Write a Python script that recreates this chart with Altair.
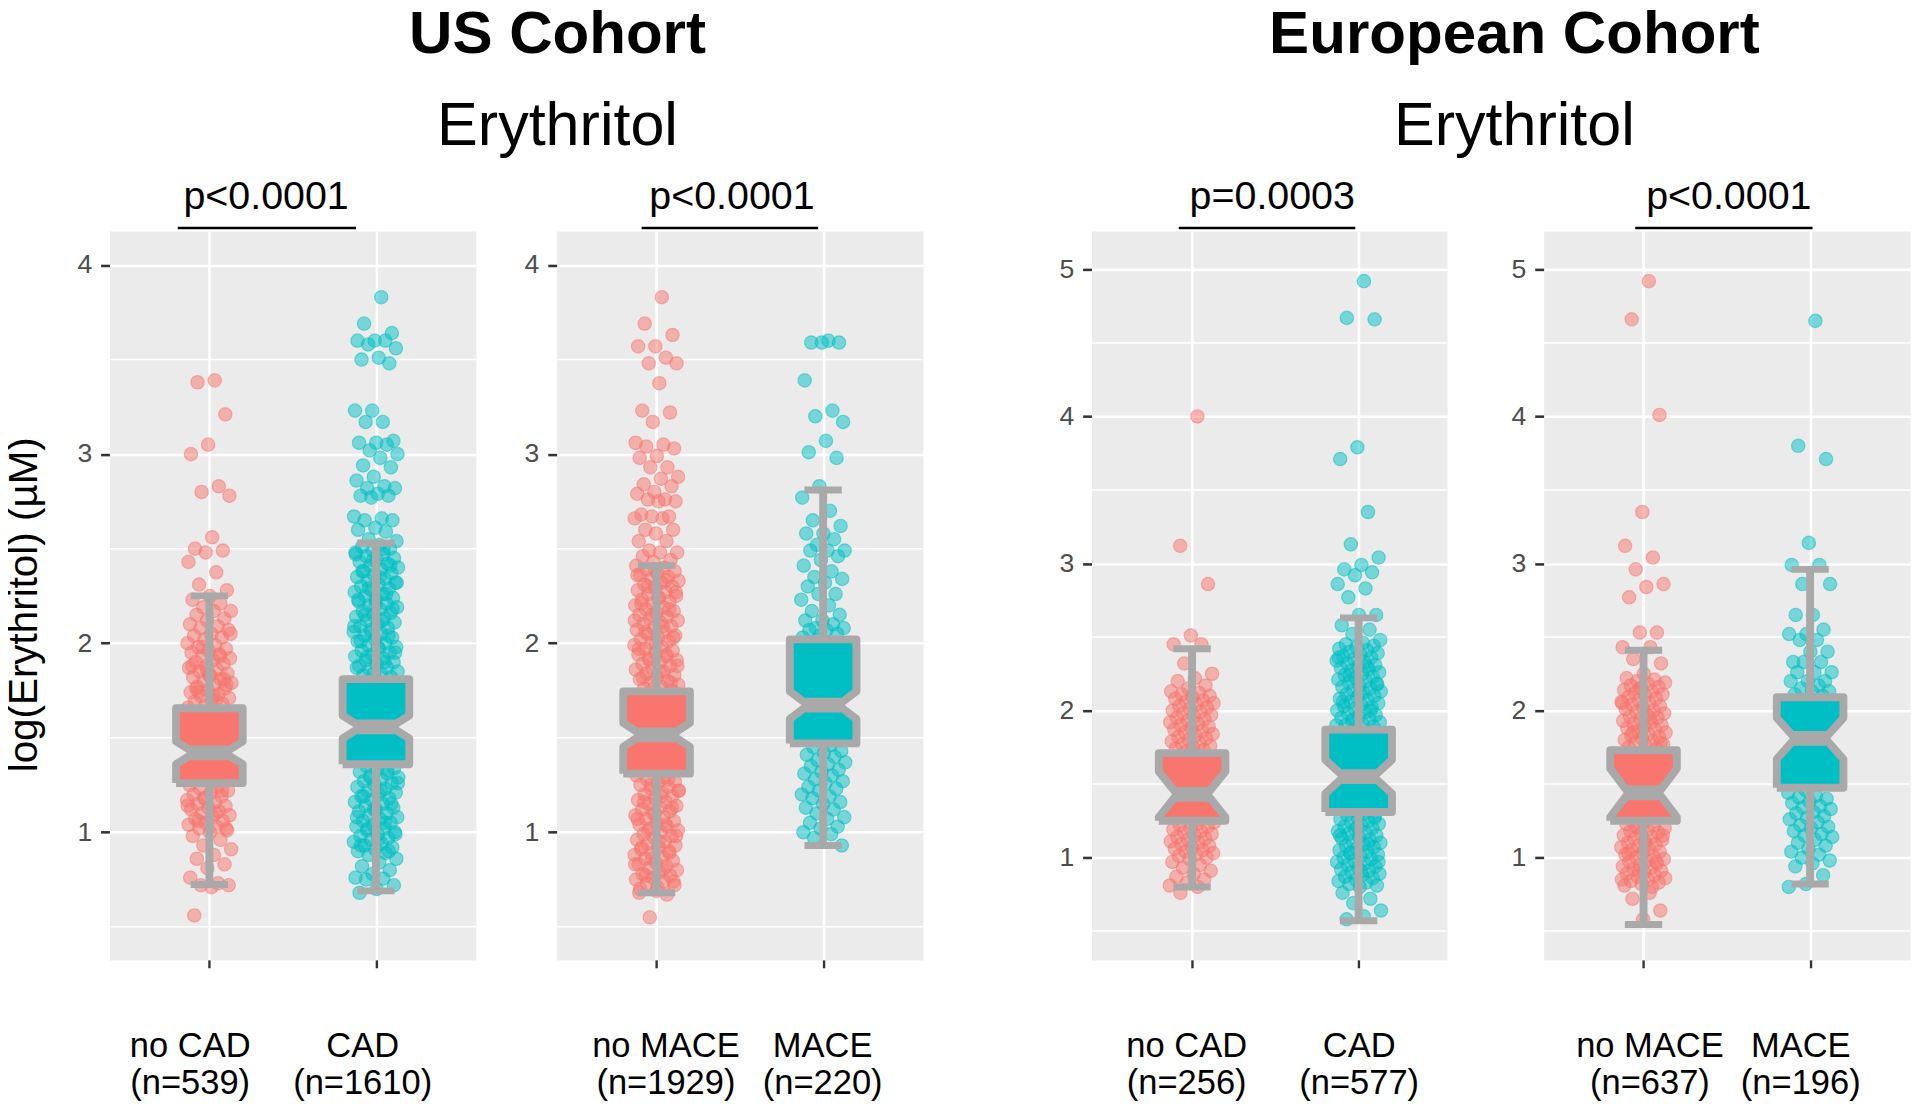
import json
import altair as alt
import pandas as pd

FONT = "Liberation Sans"
RED, TEAL, GRAY = "#F8766D", "#00BFC4", "#A9A9A9"

COHORTS = ["US Cohort", "European Cohort"]
SUBTITLE = "Erythritol"
Y_TITLE = "log(Erythritol) (µM)"
P_TEXT = ["p<0.0001", "p<0.0001", "p=0.0003", "p<0.0001"]
CAT_A = ["no CAD", "no MACE", "no CAD", "no MACE"]
CAT_B = ["CAD", "MACE", "CAD", "MACE"]
N_A = ["(n=539)", "(n=1929)", "(n=256)", "(n=637)"]
N_B = ["(n=1610)", "(n=220)", "(n=577)", "(n=196)"]

# box statistics: lower whisker, q1, median, q3, upper whisker, notch half-height
BOX_A = [[0.724, 1.26, 1.42, 1.656, 2.25, 0.06],
         [0.68, 1.31, 1.515, 1.745, 2.41, 0.063],
         [0.80, 1.25, 1.43, 1.71, 2.42, 0.155],
         [0.545, 1.25, 1.44, 1.73, 2.41, 0.165]]
BOX_B = [[0.69, 1.36, 1.557, 1.81, 2.53, 0.06],
         [0.93, 1.47, 1.672, 2.02, 2.81, 0.073],
         [0.57, 1.31, 1.55, 1.87, 2.63, 0.115],
         [0.82, 1.475, 1.81, 2.09, 2.96, 0.14]]
BRACKET = [[0.81, 1.88], [0.91, 1.97], [0.92, 1.98], [0.95, 2.015]]

# points (log erythritol) per group
US_NOCAD = [3.39, 3.38, 3.21, 3.05, 3.00, 2.83, 2.80, 2.78, 2.56, 2.50, 2.49, 2.48, 2.43, 2.375, 2.31, 2.28,
            2.25, 2.23, 2.21, 2.19, 2.17, 2.17, 2.15, 2.13, 2.12, 2.10, 2.09, 2.08, 2.07, 2.05, 2.04, 2.03,
            2.02, 2.00, 1.99, 1.98, 1.97, 1.96, 1.95, 1.94, 1.93, 1.92, 1.91, 1.90, 1.89, 1.88, 1.87, 1.86,
            1.85, 1.84, 1.83, 1.82, 1.81, 1.80, 1.79, 1.78, 1.77, 1.76, 1.75, 1.74, 1.73, 1.72, 1.71, 1.70,
            1.69, 1.68, 1.67, 1.66, 1.70, 1.74, 1.78, 1.83, 1.88, 1.93, 1.98, 2.05, 1.72, 1.76, 1.81, 1.86,
            1.25, 1.24, 1.23, 1.22, 1.21, 1.20, 1.19, 1.18, 1.17, 1.16, 1.15, 1.14, 1.13, 1.12, 1.11, 1.10,
            1.09, 1.08, 1.07, 1.06, 1.05, 1.04, 1.03, 1.02, 1.01, 1.00, 0.98, 0.96, 0.93, 0.91, 0.88, 0.86,
            0.83, 0.81, 0.76, 0.73, 0.72, 0.72, 0.71, 0.56, 1.22, 1.18, 1.14, 1.10, 1.06, 1.02]
US_CAD = [3.83, 3.69, 3.64, 3.60, 3.60, 3.60, 3.58, 3.56, 3.51, 3.50, 3.48, 3.23, 3.23, 3.17, 3.17, 3.07,
          3.06, 3.06, 3.05, 3.02, 3.00, 2.98, 2.94, 2.93, 2.88, 2.86, 2.83, 2.82, 2.82, 2.79, 2.78, 2.78,
          2.77, 2.67, 2.66, 2.65, 2.65, 2.61, 2.60, 2.59, 2.55, 2.54,
          2.52, 2.51, 2.50, 2.49, 2.48, 2.47, 2.46, 2.45, 2.44, 2.43, 2.42, 2.41, 2.40, 2.39, 2.38, 2.37,
          2.36, 2.35, 2.34, 2.33, 2.32, 2.31, 2.30, 2.29, 2.28, 2.27, 2.26, 2.25, 2.24, 2.23, 2.22, 2.21,
          2.20, 2.19, 2.18, 2.17, 2.16, 2.15, 2.14, 2.13, 2.12, 2.11, 2.10, 2.09, 2.08, 2.07, 2.06, 2.05,
          2.04, 2.03, 2.02, 2.01, 2.00, 1.99, 1.98, 1.97, 1.96, 1.95, 1.94, 1.93, 1.92, 1.91, 1.90, 1.89,
          1.88, 1.87, 1.86, 1.85, 1.84, 1.83, 1.82,
          1.84, 1.87, 1.90, 1.93, 1.95, 1.98, 2.01, 2.04, 2.06, 2.09, 2.12, 2.15, 2.18, 2.20, 2.23, 2.26,
          2.29, 2.32, 2.35, 2.38, 2.41, 2.44, 2.47, 2.50,
          1.35, 1.34, 1.33, 1.32, 1.31, 1.30, 1.29, 1.28, 1.27, 1.26, 1.25, 1.24, 1.23, 1.22, 1.21, 1.20,
          1.19, 1.18, 1.17, 1.16, 1.15, 1.14, 1.13, 1.12, 1.11, 1.10, 1.09, 1.08, 1.07, 1.06, 1.05, 1.04,
          1.03, 1.02, 1.01, 1.00, 0.99, 0.98, 0.97, 0.96, 0.95, 0.94, 0.93, 0.92, 0.91, 0.90, 0.89, 0.88,
          0.86, 0.84, 0.82, 0.80, 0.78, 0.76, 0.755, 0.75, 0.72, 0.70, 0.68,
          1.33, 1.29, 1.26, 1.22, 1.19, 1.15, 1.12, 1.08, 1.05, 1.02, 0.99, 0.96, 0.93, 0.90]
US_NOMACE = [3.83, 3.69, 3.63, 3.57, 3.57, 3.51, 3.48, 3.48, 3.375, 3.23, 3.22, 3.17, 3.06, 3.05, 3.04, 3.03,
             2.99, 2.98, 2.93, 2.93, 2.88, 2.87, 2.84, 2.83, 2.80, 2.79, 2.76, 2.76, 2.75, 2.75, 2.68, 2.67,
             2.67, 2.66, 2.66, 2.60, 2.60, 2.58, 2.54, 2.54, 2.49, 2.48, 2.48, 2.46, 2.44, 2.43,
             2.41, 2.40, 2.39, 2.38, 2.37, 2.36, 2.35, 2.34, 2.33, 2.32, 2.31, 2.30, 2.29, 2.28, 2.27, 2.26,
             2.25, 2.24, 2.23, 2.22, 2.21, 2.20, 2.19, 2.18, 2.17, 2.16, 2.15, 2.14, 2.13, 2.12, 2.11, 2.10,
             2.09, 2.08, 2.07, 2.06, 2.05, 2.04, 2.03, 2.02, 2.01, 2.00, 1.99, 1.98, 1.97, 1.96, 1.95, 1.94,
             1.93, 1.92, 1.91, 1.90, 1.89, 1.88, 1.87, 1.86, 1.85, 1.84, 1.83, 1.82, 1.81, 1.80, 1.79, 1.78,
             1.77, 1.76, 1.75,
             2.39, 2.36, 2.33, 2.30, 2.27, 2.24, 2.21, 2.18, 2.15, 2.12, 2.09, 2.06, 2.03, 2.00, 1.97, 1.94,
             1.91, 1.88, 1.85, 1.82, 1.79, 1.76,
             1.30, 1.29, 1.28, 1.27, 1.26, 1.25, 1.24, 1.23, 1.22, 1.21, 1.20, 1.19, 1.18, 1.17, 1.16, 1.15,
             1.14, 1.13, 1.12, 1.11, 1.10, 1.09, 1.08, 1.07, 1.06, 1.05, 1.04, 1.03, 1.02, 1.01, 1.00, 0.99,
             0.98, 0.97, 0.96, 0.95, 0.94, 0.93, 0.92, 0.91, 0.90, 0.89, 0.88, 0.87, 0.86, 0.85, 0.84, 0.83,
             0.82, 0.81, 0.80, 0.79, 0.78, 0.77, 0.76, 0.75, 0.74, 0.73, 0.72, 0.71, 0.70,
             1.28, 1.25, 1.22, 1.19, 1.16, 1.13, 1.10, 1.07, 1.04, 1.01, 0.98, 0.95, 0.92, 0.89, 0.86, 0.83,
             0.80, 0.77, 0.74, 0.69, 0.68, 0.67, 0.55]
US_MACE = [3.60, 3.59, 3.59, 3.59, 3.39, 3.23, 3.20, 3.17, 3.07, 3.01, 2.98, 2.83, 2.77, 2.70, 2.65, 2.62,
           2.58, 2.58, 2.55, 2.52, 2.49, 2.49, 2.49, 2.46, 2.44, 2.41, 2.38, 2.35, 2.34, 2.32, 2.30, 2.26,
           2.26, 2.23, 2.20, 2.17, 2.15, 2.12, 2.12, 2.10, 2.08, 2.08, 2.07, 2.07, 2.05, 2.04, 2.03,
           1.46, 1.45, 1.43, 1.42, 1.41, 1.40, 1.38, 1.37, 1.36, 1.35, 1.33, 1.32, 1.31, 1.30, 1.28, 1.27,
           1.26, 1.24, 1.23, 1.22, 1.20, 1.19, 1.18, 1.16, 1.15, 1.13, 1.12, 1.10, 1.08, 1.07, 1.05, 1.03,
           1.02, 1.00, 0.99, 0.97, 0.93]
EU_NOCAD = [4.00, 3.12, 2.86, 2.51, 2.45, 2.45, 2.32, 2.25, 2.22, 2.20, 2.17, 2.15, 2.13, 2.12, 2.11, 2.10,
            2.09, 2.08, 2.07, 2.06, 2.05, 2.04, 2.03, 2.02, 2.01, 2.00, 1.99, 1.98, 1.97, 1.96, 1.95, 1.94,
            1.93, 1.92, 1.91, 1.90, 1.89, 1.88, 1.87, 1.86, 1.85, 1.84, 1.83, 1.82, 1.81, 1.80, 1.79, 1.78,
            1.77, 1.76, 1.75, 1.74, 1.73, 1.72,
            1.24, 1.23, 1.22, 1.21, 1.20, 1.19, 1.18, 1.17, 1.16, 1.15, 1.14, 1.13, 1.12, 1.11, 1.10, 1.09,
            1.08, 1.07, 1.06, 1.05, 1.04, 1.03, 1.02, 1.01, 1.00, 0.99, 0.97, 0.95, 0.93, 0.91, 0.89, 0.87,
            0.85, 0.83, 0.81, 0.80, 0.76]
EU_CAD = [4.92, 4.67, 4.66, 3.79, 3.71, 3.35, 3.13, 3.04, 2.99, 2.96, 2.94, 2.92, 2.86, 2.83, 2.77, 2.65,
          2.65, 2.58, 2.55, 2.52, 2.48, 2.46,
          2.45, 2.44, 2.43, 2.42, 2.41, 2.40, 2.39, 2.38, 2.37, 2.36, 2.35, 2.34, 2.33, 2.32, 2.31, 2.30,
          2.29, 2.28, 2.27, 2.26, 2.25, 2.24, 2.23, 2.22, 2.21, 2.20, 2.19, 2.18, 2.17, 2.16, 2.15, 2.14,
          2.13, 2.12, 2.11, 2.10, 2.09, 2.08, 2.07, 2.06, 2.05, 2.04, 2.03, 2.02, 2.01, 2.00, 1.99, 1.98,
          1.97, 1.96, 1.95, 1.94, 1.93, 1.92, 1.91, 1.90, 1.89, 1.88,
          2.36, 2.30, 2.24, 2.18, 2.12, 2.06, 2.00, 1.94, 1.90,
          1.30, 1.29, 1.28, 1.27, 1.26, 1.25, 1.24, 1.23, 1.22, 1.21, 1.20, 1.19, 1.18, 1.17, 1.16, 1.15,
          1.14, 1.13, 1.12, 1.11, 1.10, 1.09, 1.08, 1.07, 1.06, 1.05, 1.04, 1.03, 1.02, 1.01, 1.00, 0.99,
          0.98, 0.97, 0.96, 0.95, 0.94, 0.93, 0.92, 0.91, 0.90, 0.89, 0.88, 0.87, 0.86, 0.85, 0.84, 0.83,
          0.82, 0.81, 0.80, 0.76, 0.72, 0.69, 0.64, 0.60, 0.58,
          1.27, 1.21, 1.15, 1.09, 1.03, 0.97, 0.91]
EU_NOMACE = [4.92, 4.66, 4.01, 3.35, 3.12, 3.04, 2.96, 2.86, 2.84, 2.77, 2.53, 2.53, 2.43, 2.43, 2.35, 2.32,
             2.25, 2.22, 2.21, 2.20, 2.19, 2.18, 2.17, 2.16, 2.15, 2.14, 2.13, 2.12, 2.11, 2.10, 2.09, 2.08,
             2.07, 2.06, 2.05, 2.04, 2.03, 2.02, 2.01, 2.00, 1.99, 1.98, 1.97, 1.96, 1.95, 1.94, 1.93, 1.92,
             1.91, 1.90, 1.89, 1.88, 1.87, 1.86, 1.85, 1.84, 1.83, 1.82, 1.81, 1.80, 1.79, 1.78, 1.77, 1.76,
             1.75, 1.74, 2.15, 2.05, 1.95, 1.85, 1.78,
             1.24, 1.23, 1.22, 1.21, 1.20, 1.19, 1.18, 1.17, 1.16, 1.15, 1.14, 1.13, 1.12, 1.11, 1.10, 1.09,
             1.08, 1.07, 1.06, 1.05, 1.04, 1.03, 1.02, 1.01, 1.00, 0.99, 0.98, 0.97, 0.96, 0.95, 0.94, 0.93,
             0.92, 0.91, 0.90, 0.89, 0.88, 0.87, 0.86, 0.85, 0.84, 0.83, 0.82, 0.81, 0.80,
             1.21, 1.15, 1.09, 1.03, 0.97, 0.91, 0.85, 0.76, 0.72, 0.64, 0.58]
EU_MACE = [4.65, 3.80, 3.71, 3.14, 2.99, 2.99, 2.86, 2.86, 2.65, 2.65, 2.55, 2.52, 2.52, 2.48, 2.48, 2.40,
           2.40, 2.33, 2.33, 2.33, 2.26, 2.26, 2.26, 2.20, 2.20, 2.20, 2.17, 2.15, 2.13, 2.13, 2.11, 2.10,
           1.46, 1.44, 1.42, 1.41, 1.40, 1.38, 1.37, 1.35, 1.34, 1.33, 1.31, 1.30, 1.28, 1.27, 1.26, 1.24,
           1.22, 1.21, 1.20, 1.18, 1.16, 1.15, 1.14, 1.12, 1.10, 1.08, 1.06, 1.04, 1.02, 1.00, 0.98, 0.96,
           0.94, 0.88, 0.82, 0.80]

POINTS_A = [US_NOCAD, US_NOMACE, EU_NOCAD, EU_NOMACE]
POINTS_B = [US_CAD, US_MACE, EU_CAD, EU_MACE]

# layout per panel
WIDTHS = [372, 372, 361, 372]
X_DOMAIN = [[0.4, 2.6], [0.4, 2.6], [0.396, 2.531], [0.4, 2.6]]
Y_DOMAIN = [[0.325, 4.18], [0.325, 4.18], [0.304, 5.261], [0.304, 5.261]]
Y_TICKS = [[1, 2, 3, 4], [1, 2, 3, 4], [1, 2, 3, 4, 5], [1, 2, 3, 4, 5]]
Y_MINOR = [[0.5, 1.5, 2.5, 3.5], [0.5, 1.5, 2.5, 3.5], [0.5, 1.5, 2.5, 3.5, 4.5], [0.5, 1.5, 2.5, 3.5, 4.5]]
LABEL_OFF = [(-20, -14), (9, -1), (-6, 0), (6, -10)]
P_DX = [-27, -8, 3, 2]

BOX_HALF = 0.2
NOTCH_HALF = 0.09
CAP_HALF = 0.112
MED_HALF = 0.112

cs = alt.Scale(domain=["a", "b"], range=[RED, TEAL])


def make_panel(i):
    xs = alt.Scale(domain=X_DOMAIN[i], nice=False, zero=False)
    ys = alt.Scale(domain=Y_DOMAIN[i], nice=False, zero=False)
    lab = ("datum.value == 1 ? " + json.dumps([CAT_A[i], N_A[i]]) +
           " : " + json.dumps([CAT_B[i], N_B[i]]))
    off = {"condition": {"test": "datum.value == 1", "value": LABEL_OFF[i][0]},
           "value": LABEL_OFF[i][1]}
    xax = alt.Axis(values=[1, 2], labelExpr=lab, title=None, grid=True, gridColor="white",
                   gridWidth=2.6, domain=False, tickColor="#333333", tickWidth=2.4, tickSize=8,
                   labelFontSize=35, labelColor="black", labelPadding=62, labelLineHeight=38,
                   labelOffset=off, labelFont=FONT, labelFlush=False, labelOverlap=False)
    yargs = dict(values=Y_TICKS[i], grid=True, gridColor="white", gridWidth=2.6, domain=False,
                 tickColor="#333333", tickWidth=2.6, tickSize=9, labelFontSize=27,
                 labelColor="#4D4D4D", labelPadding=9, labelFont=FONT, labelFlush=False,
                 labelOverlap=False)
    if i == 0:
        yax = alt.Axis(title=Y_TITLE, titleFont=FONT, titleFontSize=41, titleFontWeight="normal",
                       titleColor="black", titleX=-74, titleY=379, titleAngle=270,
                       titleAlign="center", titleBaseline="alphabetic", **yargs)
    else:
        yax = alt.Axis(title=None, **yargs)

    ya, yb = POINTS_A[i], POINTS_B[i]
    pts = pd.DataFrame({"y": ya + yb, "g": ["a"] * len(ya) + ["b"] * len(yb),
                        "c": [1] * len(ya) + [2] * len(yb)})
    a, b = BOX_A[i], BOX_B[i]

    # notched box outline, traced as a closed path
    poly_rows = []
    for g, c, s in (("a", 1, a), ("b", 2, b)):
        lo, q1, med, q3, hi, nh = s
        verts = [(c - BOX_HALF, q1), (c - BOX_HALF, med - nh), (c - NOTCH_HALF, med),
                 (c - BOX_HALF, med + nh), (c - BOX_HALF, q3), (c + BOX_HALF, q3),
                 (c + BOX_HALF, med + nh), (c + NOTCH_HALF, med), (c + BOX_HALF, med - nh),
                 (c + BOX_HALF, q1), (c - BOX_HALF, q1)]
        for k, (xx, yy) in enumerate(verts):
            poly_rows.append({"g": g, "k": k, "x": xx, "y": yy})
    poly = pd.DataFrame(poly_rows)

    whisk = pd.DataFrame({"c": [1, 2], "lo": [a[0], b[0]], "hi": [a[4], b[4]]})
    caps = pd.DataFrame({"x1": [1 - CAP_HALF, 1 - CAP_HALF, 2 - CAP_HALF, 2 - CAP_HALF],
                         "x2": [1 + CAP_HALF, 1 + CAP_HALF, 2 + CAP_HALF, 2 + CAP_HALF],
                         "y": [a[0], a[4], b[0], b[4]]})
    meds = pd.DataFrame({"x1": [1 - MED_HALF, 2 - MED_HALF], "x2": [1 + MED_HALF, 2 + MED_HALF],
                         "y": [a[2], b[2]]})
    brk = pd.DataFrame({"x1": [BRACKET[i][0]], "x2": [BRACKET[i][1]]})
    minor = pd.DataFrame({"m": Y_MINOR[i]})

    l_minor = alt.Chart(minor).mark_rule(color="white", strokeWidth=1.5).encode(
        y=alt.Y("m:Q", scale=ys, axis=yax))
    l_pts = alt.Chart(pts).transform_window(
        rn="row_number()", groupby=["g"]
    ).transform_calculate(
        xj="datum.c + ((datum.rn * 0.6180339887) % 1 - 0.5) * 0.27"
    ).mark_circle(size=185, fillOpacity=0.5, strokeOpacity=0.5, strokeWidth=1.2).encode(
        x=alt.X("xj:Q", scale=xs, axis=xax),
        y=alt.Y("y:Q", scale=ys, axis=yax),
        color=alt.Color("g:N", scale=cs, legend=None),
        stroke=alt.Stroke("g:N", scale=cs, legend=None),
    )
    l_whisk = alt.Chart(whisk).mark_rule(color=GRAY, strokeWidth=8).encode(
        x=alt.X("c:Q", scale=xs, axis=xax), y=alt.Y("lo:Q", scale=ys, axis=yax), y2="hi:Q")
    l_caps = alt.Chart(caps).mark_rule(color=GRAY, strokeWidth=7).encode(
        x=alt.X("x1:Q", scale=xs, axis=xax), x2="x2:Q", y=alt.Y("y:Q", scale=ys, axis=yax))
    l_box = alt.Chart(poly).mark_line(filled=True, stroke=GRAY, strokeWidth=8,
                                      strokeJoin="round", opacity=1).encode(
        x=alt.X("x:Q", scale=xs, axis=xax),
        y=alt.Y("y:Q", scale=ys, axis=yax),
        color=alt.Color("g:N", scale=cs, legend=None),
        detail="g:N",
        order=alt.Order("k:Q"),
    )
    l_med = alt.Chart(meds).mark_rule(color=GRAY, strokeWidth=15).encode(
        x=alt.X("x1:Q", scale=xs, axis=xax), x2="x2:Q", y=alt.Y("y:Q", scale=ys, axis=yax))
    l_brk = alt.Chart(brk).mark_rule(color="black", strokeWidth=2.7).encode(
        x=alt.X("x1:Q", scale=xs, axis=xax), x2="x2:Q", y=alt.value(-3))

    return alt.layer(l_minor, l_pts, l_whisk, l_caps, l_box, l_med, l_brk).properties(
        width=WIDTHS[i], height=740,
        title=alt.TitleParams(text=P_TEXT[i], font=FONT, fontSize=40, fontWeight="normal",
                              color="black", frame="group", anchor="middle",
                              baseline="alphabetic", offset=-22, dx=P_DX[i]),
    )


def cohort_title(name, dx):
    return alt.TitleParams(text=name, subtitle=SUBTITLE, font=FONT, subtitleFont=FONT,
                           fontSize=61, fontWeight="bold", color="black",
                           subtitleFontSize=62, subtitleFontWeight="normal",
                           subtitleColor="black", subtitlePadding=32, anchor="middle",
                           offset=19, dx=dx)


us = alt.hconcat(make_panel(0), make_panel(1), spacing=46).properties(
    title=cohort_title(COHORTS[0], 95))
eu = alt.hconcat(make_panel(2), make_panel(3), spacing=62).properties(
    title=cohort_title(COHORTS[1], 30))

chart = alt.hconcat(us, eu, spacing=135).properties(
    padding={"left": -5, "top": -12, "right": 0, "bottom": 0}
).configure(font=FONT).configure_view(fill="#EBEBEB", stroke="transparent")

chart.save("out.html", embed_options={"renderer": "svg", "actions": False})
